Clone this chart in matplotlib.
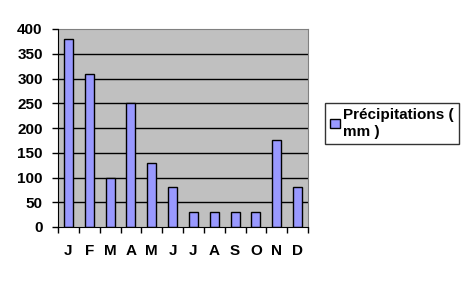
import matplotlib
matplotlib.use("Agg")
import matplotlib.pyplot as plt
from matplotlib.patches import Patch

months = ["J", "F", "M", "A", "M", "J", "J", "A", "S", "O", "N", "D"]
precip = [380, 310, 100, 250, 130, 80, 30, 30, 30, 30, 175, 80]
yticks = [0, 50, 100, 150, 200, 250, 300, 350, 400]
series_label = "Précipitations (\nmm )"

plt.rcParams['font.family'] = ['Liberation Sans', 'DejaVu Sans']
fig = plt.figure(figsize=(4.68, 2.81), dpi=100)
ax = fig.add_axes([58/468, 1-227/281, 250/468, 198/281])
ax.set_facecolor('#C0C0C0')
x = list(range(len(months)))
ax.bar(x, precip, width=0.43, color='#9999FF', edgecolor='black', linewidth=1, zorder=3)
ax.set_xlim(-0.5, len(months)-0.5)
ax.set_ylim(0, 400)
ax.set_yticks(yticks)
ax.set_yticklabels([str(v) for v in yticks], fontsize=11, fontweight='bold')
ax.set_xticks(x)
ax.set_xticklabels(months, fontsize=11, fontweight='bold')
ax.set_xticks([i-0.5 for i in range(len(months)+1)], minor=True)
ax.tick_params(axis='x', which='major', length=0, pad=12)
ax.tick_params(axis='x', which='minor', length=4, direction='out', width=1)
ax.tick_params(axis='y', length=4, direction='out', width=1, pad=7)
for v in yticks[1:-1]:
    ax.axhline(v, color='black', linewidth=1, zorder=1)
for s in ['top', 'right']:
    ax.spines[s].set_color('#808080')
for s in ['left', 'bottom']:
    ax.spines[s].set_color('black')
    ax.spines[s].set_zorder(4)

handle = Patch(facecolor='#9999FF', edgecolor='black', linewidth=1)
leg = fig.legend([handle], [series_label], loc='upper left',
                 bbox_to_anchor=(325/468, 1-103/281), prop={'size': 11, 'weight': 'bold'},
                 frameon=True, fancybox=False, edgecolor='black', handlelength=0.6,
                 handleheight=0.6, handletextpad=0.25, borderpad=0.35, borderaxespad=0)
leg.get_frame().set_linewidth(1)
fig.savefig("out.png", dpi=100)
